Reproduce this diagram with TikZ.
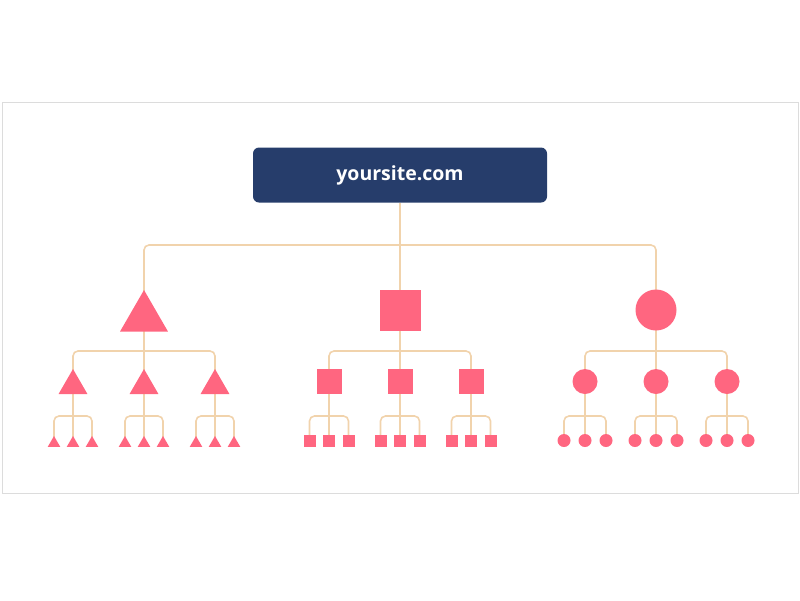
\documentclass[tikz,border=0pt]{standalone}
\usepackage{fontspec}
\setsansfont{Open Sans}
\usetikzlibrary{shapes.geometric,backgrounds}
\definecolor{navy}{RGB}{38,61,107}
\definecolor{pinkc}{RGB}{255,102,128}
\definecolor{tanc}{RGB}{241,211,172}
\definecolor{framec}{RGB}{220,220,220}
\begin{document}
\begin{tikzpicture}[x=1pt,y=-1pt,
  conn/.style={draw=tanc, line width=1.6pt, rounded corners=5pt},
  shp/.style={fill=pinkc, draw=none, inner sep=0pt, outer sep=0pt},
  tri/.style={shp, regular polygon, regular polygon sides=3},
  sq/.style={shp, rectangle},
  circ/.style={shp, circle},
  titlebox/.style={fill=navy, rounded corners=6pt, minimum width=294pt, minimum height=55pt,
    text=white, font=\sffamily\bfseries\fontsize{19.5}{22}\selectfont, inner sep=0pt}
]
\useasboundingbox (0,0) rectangle (800,600);
\draw[framec, line width=1pt] (2,102) rectangle (798,493);

\node[titlebox] (root) at (400,175) {yoursite.com};

% level 1
\node[tri, minimum size=55.4pt] (A) at (144,317.7) {};
\node[sq, minimum size=41pt] (B) at (400,310.5) {};
\node[circ, minimum size=41pt] (C) at (656,310) {};

% level 2 and leaves: triangles
\foreach \i/\dx in {1/-71,2/0,3/71}{
  \node[tri, minimum size=33.4pt] (A\i) at (144+\dx,385.7) {};
  \foreach \j/\ex in {1/-19,2/0,3/19}{
    \node[tri, minimum size=14.6pt] (A\i\j) at (144+\dx+\ex,443.3) {};
  }
}
% squares
\foreach \i/\dx in {1/-71,2/0,3/71}{
  \node[sq, minimum size=25pt] (B\i) at (400+\dx,381.5) {};
  \foreach \j/\ex in {1/-19.5,2/0,3/19.5}{
    \node[sq, minimum size=12pt] (B\i\j) at (400+\dx+\ex,441) {};
  }
}
% circles
\foreach \i/\dx in {1/-71,2/0,3/71}{
  \node[circ, minimum size=25pt] (C\i) at (656+\dx,381.5) {};
  \foreach \j/\ex in {1/-21,2/0,3/21}{
    \node[circ, minimum size=13pt] (C\i\j) at (656+\dx+\ex,440.5) {};
  }
}

% connectors
\begin{scope}[on background layer]
  \coordinate (bus0) at (400,245);
  \draw[conn] (root.south) -- (B.center);
  \draw[conn] (bus0) -| (A.center);
  \draw[conn] (bus0) -| (C.center);
  \foreach \g in {A,B,C}{
    \coordinate (bus\g) at (\g |- 0,351);
    \draw[conn] (\g.center) -- (\g2.center);
    \draw[conn] (bus\g) -| (\g1.center);
    \draw[conn] (bus\g) -| (\g3.center);
    \foreach \i in {1,2,3}{
      \coordinate (bus\g\i) at (\g\i |- 0,416);
      \draw[conn] (\g\i.center) -- (\g\i2.center);
      \draw[conn] (bus\g\i) -| (\g\i1.center);
      \draw[conn] (bus\g\i) -| (\g\i3.center);
    }
  }
\end{scope}
\end{tikzpicture}
\end{document}
